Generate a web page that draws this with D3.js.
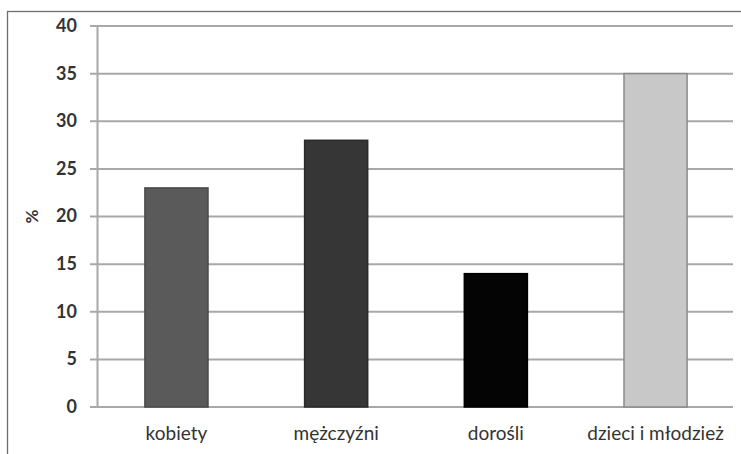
<!DOCTYPE html>
<html>
<head>
<meta charset="utf-8">
<script src="https://cdn.jsdelivr.net/npm/d3@7/dist/d3.min.js"></script>
<style>
  html, body { margin: 0; padding: 0; background: #fff; }
  svg { display: block; }
  text { font-family: Lato, "Open Sans", sans-serif; fill: #333; }
</style>
</head>
<body>
<svg id="chart" width="741" height="454"></svg>
<script>
// Udział procentowy w grupach
const categories = ["kobiety", "mężczyźni", "dorośli", "dzieci i młodzież"];
const values = [23, 28, 14, 35];
const barColors = ["#5a5a5a", "#363636", "#040404", "#c8c8c8"];
const barStrokes = ["#4a4a4a", "#2a2a2a", "#000000", "#8a8a8a"];
const yTicks = [0, 5, 10, 15, 20, 25, 30, 35, 40];

const svg = d3.select("#chart");
const W = 741, H = 454;
const m = { top: 26, right: 6, bottom: 47, left: 97 };

// outer frame
svg.append("rect")
  .attr("x", 7.5).attr("y", 11.5)
  .attr("width", W + 10).attr("height", H + 10)
  .attr("fill", "none").attr("stroke", "#6e6e6e").attr("stroke-width", 1.3);

const x = d3.scaleBand()
  .domain(categories)
  .range([m.left, W - m.right])
  .paddingInner(0.605).paddingOuter(0.3);

const y = d3.scaleLinear().domain([0, 40]).range([H - m.bottom, m.top]);

// horizontal gridlines
svg.append("g")
  .selectAll("line")
  .data(yTicks)
  .join("line")
  .attr("x1", m.left - 7).attr("x2", W - m.right - 2)
  .attr("y1", d => y(d)).attr("y2", d => y(d))
  .attr("stroke", "#a8a8a8").attr("stroke-width", 2);

// y axis
const yAxis = svg.append("g")
  .attr("transform", `translate(${m.left},0)`)
  .call(d3.axisLeft(y).tickValues(yTicks).tickSize(0).tickPadding(20));
yAxis.select(".domain").attr("stroke", "#a8a8a8").attr("stroke-width", 2);
yAxis.selectAll("text")
  .style("font-size", "18px").style("font-weight", "700").attr("fill", "#333")
  .attr("dy", "0.3em");

// bars
svg.append("g")
  .selectAll("rect")
  .data(categories)
  .join("rect")
  .attr("x", d => x(d))
  .attr("width", x.bandwidth())
  .attr("y", (d, i) => y(values[i]))
  .attr("height", (d, i) => y(0) - y(values[i]))
  .attr("fill", (d, i) => barColors[i])
  .attr("stroke", (d, i) => barStrokes[i])
  .attr("stroke-width", 1.5);

// x axis labels
const xAxis = svg.append("g")
  .attr("transform", `translate(0,${y(0)})`)
  .call(d3.axisBottom(x).tickSize(0).tickPadding(20));
xAxis.select(".domain").remove();
xAxis.selectAll("text")
  .style("font-size", "19px").attr("fill", "#333");

// y axis title
svg.append("text")
  .attr("transform", `translate(32,${y(20)}) rotate(-90)`)
  .attr("text-anchor", "middle")
  .attr("dy", "0.35em")
  .style("font-size", "17px").style("font-weight", "700")
  .text("%");
</script>
</body>
</html>
